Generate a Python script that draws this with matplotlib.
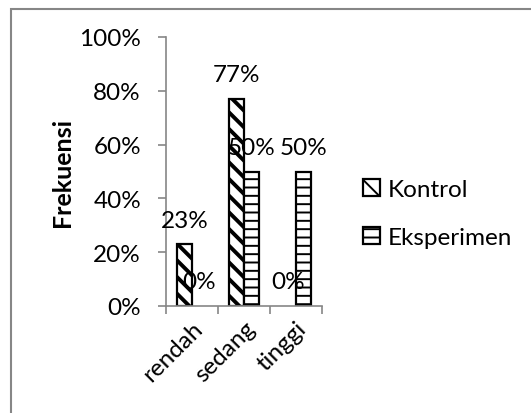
import matplotlib
matplotlib.use("Agg")
import matplotlib.pyplot as plt
import numpy as np
from matplotlib.patches import Rectangle, Patch

categories = ["rendah", "sedang", "tinggi"]
kontrol = [23, 77, 0]
eksperimen = [0, 50, 50]
series_names = ["Kontrol", "Eksperimen"]
yticks = [0, 20, 40, 60, 80, 100]

plt.rcParams["font.family"] = ["Lato", "DejaVu Sans"]
plt.rcParams["font.size"] = 17.5

fig = plt.figure(figsize=(5.31, 4.14), dpi=100)
ax = fig.add_axes([166 / 531, 1 - 307 / 414, 156 / 531, 269 / 414])

x = np.arange(len(categories))
w = 0.29
plt.rcParams["hatch.linewidth"] = 2.8
b1 = ax.bar(x - w / 2, kontrol, w, facecolor="white", edgecolor="black",
            linewidth=1.6, hatch="\\\\")
h1 = Patch(facecolor="white", edgecolor="black", linewidth=1.6, hatch="\\\\", label=series_names[0])
plt.rcParams["hatch.linewidth"] = 1.4
b2 = ax.bar(x + w / 2, eksperimen, w, facecolor="white", edgecolor="black",
            linewidth=1.6, hatch="--")
h2 = Patch(facecolor="white", edgecolor="black", linewidth=1.6, hatch="--", label=series_names[1])

for bars, vals in [(b1, kontrol), (b2, eksperimen)]:
    for rect, v in zip(bars, vals):
        if v == 0:
            rect.set_edgecolor("none")
            rect.set_hatch(None)
        ax.annotate(f"{v}%", (rect.get_x() + rect.get_width() / 2, v),
                    xytext=(0, 24), textcoords="offset pixels",
                    ha="center", va="center")

ax.set_xlim(-0.5, 2.5)
ax.set_ylim(0, 100)
ax.set_yticks(yticks)
ax.set_yticklabels([f"{t}%" for t in yticks])
ax.set_xticks(x)
ax.set_xticklabels(categories, rotation=45, ha="right", rotation_mode="anchor")
ax.set_xticks([-0.5, 0.5, 1.5, 2.5], minor=True)
ax.tick_params(axis="x", which="major", length=0, pad=8)
ax.tick_params(axis="x", which="minor", length=6, color="#868686", width=1.2)
ax.tick_params(axis="y", length=6, color="#868686", width=1.2, pad=12)
for s in ["top", "right"]:
    ax.spines[s].set_visible(False)
for s in ["left", "bottom"]:
    ax.spines[s].set_color("#868686")
    ax.spines[s].set_linewidth(1.2)
ax.set_ylabel("Frekuensi", fontweight="bold", fontsize=18, labelpad=4)

fig.legend(handles=[h1, h2], loc="upper left", bbox_to_anchor=(363 / 531, 1 - 180 / 414),
           frameon=False, handlelength=0.7, handleheight=0.7, handletextpad=0.3,
           labelspacing=1.1, borderaxespad=0, borderpad=0)

fig.add_artist(Rectangle((10.5 / 531, -0.1), 1.2, 1.1 - 9.5 / 414, transform=fig.transFigure,
                         fill=False, edgecolor="#868686", linewidth=1.5))

fig.savefig("out.png", dpi=100)
